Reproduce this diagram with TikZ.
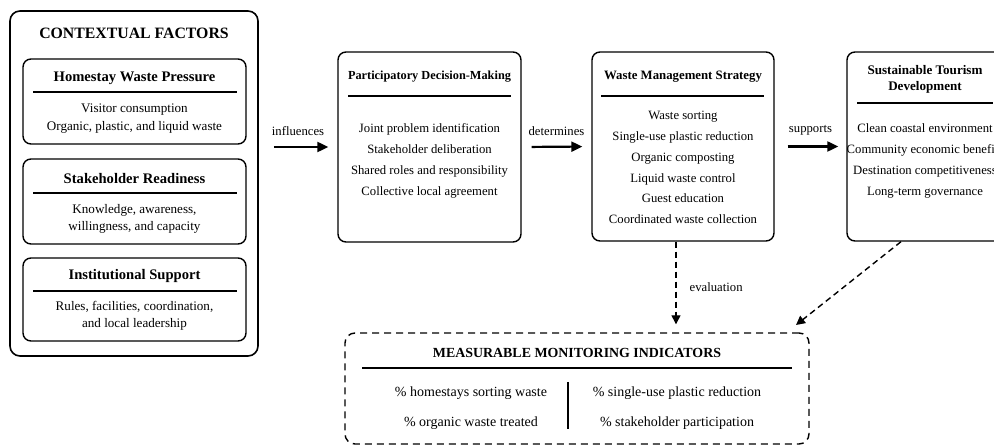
\documentclass[tikz,border=0pt]{standalone}
\usepackage{fontspec}
\setmainfont{Liberation Serif}
\usetikzlibrary{arrows.meta}

\begin{document}
\begin{tikzpicture}[x=1pt,y=-1pt,>={Triangle[length=11pt,width=10pt]},
    box/.style={draw,rounded corners=8pt,line width=1.4pt,inner sep=0pt},
    rulel/.style={line width=1.3pt},
    title/.style={font=\bfseries\fontsize{15.8}{18}\selectfont,inner sep=0pt},
    sidehead/.style={font=\bfseries\fontsize{14.6}{17}\selectfont,inner sep=0pt},
    head/.style={font=\bfseries\fontsize{12.8}{16}\selectfont,align=center,inner sep=0pt},
    sidetxt/.style={font=\fontsize{13.1}{18}\selectfont,align=center,inner sep=0pt},
    listtxt/.style={font=\fontsize{12.7}{20.8}\selectfont,align=center,inner sep=0pt},
    mmitxt/.style={font=\fontsize{14}{30}\selectfont,align=center,inner sep=0pt},
    flow/.style={->,line width=2.2pt},
    evalflow/.style={->,>={Triangle[length=9pt,width=9pt]},line width=1.4pt,dash pattern=on 6pt off 4pt}]
        \useasboundingbox (0,0) rectangle (994,446);
        \clip (0,0) rectangle (994,446);
        % contextual factors
        \node[box,rounded corners=10pt,line width=1.6pt,minimum width=248pt,minimum height=345pt](ctx)at(134, 183.5){};
        \node[title](ctxhead)at(134, 33){CONTEXTUAL FACTORS};
        \node[box,minimum width=223pt,minimum height=85pt](hwp)at(134.5, 101.5){};
        \node[sidehead](hwphead)at(134.5, 78){Homestay Waste Pressure};
        \draw[rulel](33, 92) -- (237, 92);
        \node[sidetxt](hwptxt)at(134.5, 118.5){Visitor consumption\\Organic, plastic, and liquid waste};
        \node[box,minimum width=223pt,minimum height=85pt](shr)at(134.5, 201.5){};
        \node[sidehead](shrhead)at(134.5, 179){Stakeholder Readiness};
        \draw[rulel](33, 193) -- (237, 193);
        \node[sidetxt,font=\fontsize{13.1}{17}\selectfont](shrtxt)at(134.5, 218.5){Knowledge, awareness,\\willingness, and capacity};
        \node[box,minimum width=223pt,minimum height=83pt](ins)at(134.5, 299.5){};
        \node[sidehead](inshead)at(134.5, 276){Institutional Support};
        \draw[rulel](33, 291) -- (237, 291);
        \node[sidetxt,font=\fontsize{13.1}{17}\selectfont](instxt)at(134.5, 315.5){Rules, facilities, coordination,\\and local leadership};
        % participatory decision-making
        \node[box,minimum width=183pt,minimum height=190pt](pdm)at(429.5, 147){};
        \node[head,font=\bfseries\fontsize{12.3}{15}\selectfont](pdmhead)at(429.5, 77){Participatory Decision-Making};
        \draw[rulel](348, 96) -- (511, 96);
        \node[listtxt,font=\fontsize{12.7}{21}\selectfont](pdmtxt)at(429.5, 160.5){Joint problem identification\\Stakeholder deliberation\\Shared roles and responsibility\\Collective local agreement};
        % waste management strategy
        \node[box,minimum width=182pt,minimum height=189pt](wms)at(683, 146.5){};
        \node[head](wmshead)at(683, 77){Waste Management Strategy};
        \draw[rulel](601, 96) -- (764, 96);
        \node[listtxt](wmstxt)at(683, 167.5){Waste sorting\\Single-use plastic reduction\\Organic composting\\Liquid waste control\\Guest education\\Coordinated waste collection};
        % sustainable tourism development
        \node[box,minimum width=156pt,minimum height=189pt](std)at(925, 146.5){};
        \node[head,font=\bfseries\fontsize{13.1}{16}\selectfont](stdhead)at(925, 79){Sustainable Tourism\\Development};
        \draw[rulel](857, 103) -- (993, 103);
        \node[listtxt,font=\fontsize{12.7}{20.7}\selectfont](stdtxt)at(925, 161){Clean coastal environment\\Community economic benefits\\Destination competitiveness\\Long-term governance};
        % monitoring indicators
        \node[box,line width=1.4pt,dash pattern=on 7pt off 5pt,rounded corners=10pt,minimum width=464pt,minimum height=111pt](mmi)at(577, 388.5){};
        \node[head,font=\bfseries\fontsize{13.9}{16}\selectfont](mmihead)at(577, 353){MEASURABLE MONITORING INDICATORS};
        \draw[rulel](362, 368) -- (792, 368);
        \draw[rulel](568, 382) -- (568, 429);
        \node[mmitxt](mmileft)at(471, 408){\% homestays sorting waste\\\% organic waste treated};
        \node[mmitxt](mmiright)at(677, 408){\% single-use plastic reduction\\\% stakeholder participation};
        \coordinate(stdend)at(796, 325);
        % connectors
        \draw[flow,shorten <=15pt,shorten >=9pt](ctx.east |- pdm.west) -- node[above=10pt,font=\fontsize{12.7}{15}\selectfont,inner sep=0pt]{influences} (pdm.west);
        \draw[flow,shorten <=10pt,shorten >=9pt](pdm.east) -- node[above=10pt,font=\fontsize{12.7}{15}\selectfont,inner sep=0pt]{determines} (wms.west);
        \draw[flow,shorten <=13pt,shorten >=8pt](wms.east) -- node[above=10pt,font=\fontsize{12.7}{15}\selectfont,inner sep=0pt]{supports} (std.west);
        \draw[evalflow,shorten >=8pt]([xshift=-7pt]wms.south) -- node[right=13pt,font=\fontsize{12.7}{15}\selectfont,inner sep=0pt]{evaluation} ([xshift=-7pt]wms.south |- mmi.north);
        \draw[evalflow]([xshift=-24pt]std.south) -- (stdend);
    \end{tikzpicture}
\end{document}
